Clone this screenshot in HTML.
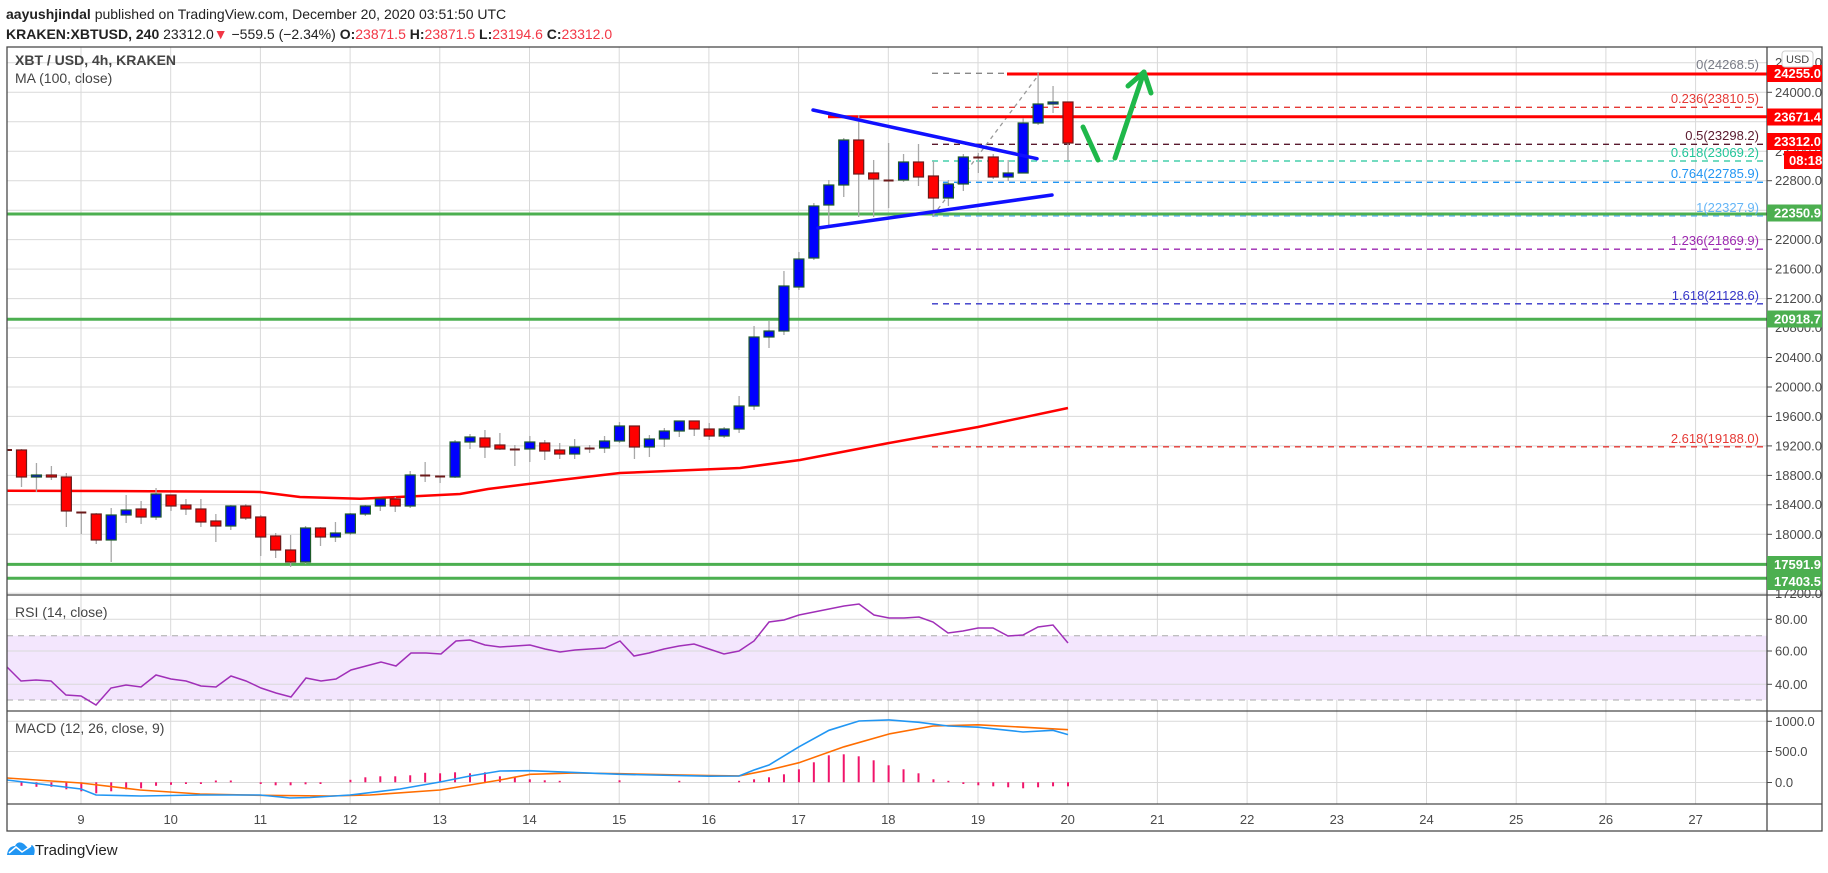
<!DOCTYPE html>
<html><head><meta charset="utf-8"><style>
html,body{margin:0;padding:0;background:#fff;}
body{width:1828px;height:868px;overflow:hidden;font-family:"Liberation Sans",sans-serif;}
svg text{font-family:"Liberation Sans",sans-serif;}
.u{fill:#0000ff;stroke:#1e5b2a;stroke-width:1.2}
.d{fill:#ff0000;stroke:#6b1a1a;stroke-width:1.2}
.w line{stroke:#a8a8a8;stroke-width:1.3}
.ax{font-size:13px;fill:#4a4a4a}
.tg{font-size:13px;fill:#fff;font-weight:bold}
</style></head><body>
<svg width="1828" height="868" xmlns="http://www.w3.org/2000/svg">
<text x="6" y="19" font-size="14" fill="#222"><tspan font-weight="bold">aayushjindal</tspan> published on TradingView.com, December 20, 2020 03:51:50 UTC</text>
<text x="6" y="39" font-size="14" fill="#222"><tspan font-weight="bold">KRAKEN:XBTUSD, 240</tspan> 23312.0<tspan fill="#f23645">▼</tspan> −559.5 (−2.34%) <tspan font-weight="bold">O:</tspan><tspan fill="#f23645">23871.5</tspan> <tspan font-weight="bold">H:</tspan><tspan fill="#f23645">23871.5</tspan> <tspan font-weight="bold">L:</tspan><tspan fill="#f23645">23194.6</tspan> <tspan font-weight="bold">C:</tspan><tspan fill="#f23645">23312.0</tspan></text>

<!-- grid -->
<g stroke="#d9d9d9" stroke-width="1">
<line x1="81" y1="47" x2="81" y2="804"/><line x1="170.7" y1="47" x2="170.7" y2="804"/><line x1="260.4" y1="47" x2="260.4" y2="804"/><line x1="350.1" y1="47" x2="350.1" y2="804"/><line x1="439.8" y1="47" x2="439.8" y2="804"/><line x1="529.5" y1="47" x2="529.5" y2="804"/><line x1="619.2" y1="47" x2="619.2" y2="804"/><line x1="708.9" y1="47" x2="708.9" y2="804"/><line x1="798.6" y1="47" x2="798.6" y2="804"/><line x1="888.3" y1="47" x2="888.3" y2="804"/><line x1="978" y1="47" x2="978" y2="804"/><line x1="1067.7" y1="47" x2="1067.7" y2="804"/><line x1="1157.4" y1="47" x2="1157.4" y2="804"/><line x1="1247.1" y1="47" x2="1247.1" y2="804"/><line x1="1336.8" y1="47" x2="1336.8" y2="804"/><line x1="1426.5" y1="47" x2="1426.5" y2="804"/><line x1="1516.2" y1="47" x2="1516.2" y2="804"/><line x1="1605.9" y1="47" x2="1605.9" y2="804"/><line x1="1695.6" y1="47" x2="1695.6" y2="804"/>
<line x1="7" y1="62.8" x2="1767" y2="62.8"/><line x1="7" y1="92.3" x2="1767" y2="92.3"/><line x1="7" y1="121.8" x2="1767" y2="121.8"/><line x1="7" y1="151.2" x2="1767" y2="151.2"/><line x1="7" y1="180.7" x2="1767" y2="180.7"/><line x1="7" y1="210.2" x2="1767" y2="210.2"/><line x1="7" y1="239.6" x2="1767" y2="239.6"/><line x1="7" y1="269.1" x2="1767" y2="269.1"/><line x1="7" y1="298.6" x2="1767" y2="298.6"/><line x1="7" y1="328" x2="1767" y2="328"/><line x1="7" y1="357.5" x2="1767" y2="357.5"/><line x1="7" y1="387" x2="1767" y2="387"/><line x1="7" y1="416.4" x2="1767" y2="416.4"/><line x1="7" y1="445.9" x2="1767" y2="445.9"/><line x1="7" y1="475.4" x2="1767" y2="475.4"/><line x1="7" y1="504.8" x2="1767" y2="504.8"/><line x1="7" y1="534.3" x2="1767" y2="534.3"/><line x1="7" y1="563.8" x2="1767" y2="563.8"/><line x1="7" y1="593.2" x2="1767" y2="593.2"/>
</g>
<!-- RSI band -->
<rect x="7" y="635.7" width="1760" height="64.3" fill="#f3e6fd"/>
<g stroke="#d9d9d9"><line x1="7" y1="619.3" x2="1767" y2="619.3"/><line x1="7" y1="651" x2="1767" y2="651"/><line x1="7" y1="684.3" x2="1767" y2="684.3"/>
<line x1="7" y1="721.3" x2="1767" y2="721.3"/><line x1="7" y1="751.5" x2="1767" y2="751.5"/><line x1="7" y1="782.5" x2="1767" y2="782.5"/></g>
<g stroke="#aaa" stroke-dasharray="6 5"><line x1="7" y1="635.7" x2="1767" y2="635.7"/><line x1="7" y1="700" x2="1767" y2="700"/></g>

<!-- horizontal S/R -->
<g stroke="#4caf50" stroke-width="3"><line x1="7" y1="214" x2="1767" y2="214"/><line x1="7" y1="319.3" x2="1767" y2="319.3"/><line x1="7" y1="564.4" x2="1767" y2="564.4"/><line x1="7" y1="578.3" x2="1767" y2="578.3"/></g>

<!-- fib -->
<g stroke-width="1.3" stroke-dasharray="6 5">
<line x1="932" y1="73.3" x2="1767" y2="73.3" stroke="#888"/>
<line x1="932" y1="107.3" x2="1767" y2="107.3" stroke="#e53935"/>
<line x1="932" y1="144.3" x2="1767" y2="144.3" stroke="#5a1a2e"/>
<line x1="932" y1="161" x2="1767" y2="161" stroke="#22c59a"/>
<line x1="932" y1="182.3" x2="1767" y2="182.3" stroke="#2196f3"/>
<line x1="932" y1="216" x2="1767" y2="216" stroke="#64b5f6"/>
<line x1="932" y1="249.2" x2="1767" y2="249.2" stroke="#9c27b0"/>
<line x1="932" y1="303.8" x2="1767" y2="303.8" stroke="#3535c8"/>
<line x1="932" y1="446.8" x2="1767" y2="446.8" stroke="#e53935"/>
<line x1="933" y1="215.7" x2="1040" y2="73" stroke="#999" stroke-dasharray="4 4"/>
</g>
<g font-size="13" text-anchor="end">
<text x="1759" y="69" fill="#787b86">0(24268.5)</text>
<text x="1759" y="103" fill="#e53935">0.236(23810.5)</text>
<text x="1759" y="140" fill="#5a1a2e">0.5(23298.2)</text>
<text x="1759" y="157" fill="#22c59a">0.618(23069.2)</text>
<text x="1759" y="178" fill="#2196f3">0.764(22785.9)</text>
<text x="1759" y="212" fill="#64b5f6">1(22327.9)</text>
<text x="1759" y="245" fill="#9c27b0">1.236(21869.9)</text>
<text x="1759" y="300" fill="#3535c8">1.618(21128.6)</text>
<text x="1759" y="443" fill="#e53935">2.618(19188.0)</text>
</g>
<g stroke="#ff0000" stroke-width="3"><line x1="1007" y1="74" x2="1767" y2="74"/><line x1="828" y1="116.7" x2="1767" y2="116.7"/></g>

<!-- MA -->
<polyline fill="none" stroke="#ff0000" stroke-width="2.5" points="7,490.7 100,491 240,491.7 260,492 300,497 360,498.7 420,496 460,494 488,489 560,480 620,473 680,470.5 740,468 800,460 889,443 978,427 1068,408"/>

<!-- candles wicks -->
<g class="w">
<line x1="21.5" y1="449" x2="21.5" y2="487"/><line x1="36.45" y1="463" x2="36.45" y2="492"/><line x1="51.4" y1="466" x2="51.4" y2="480"/><line x1="66.35" y1="473" x2="66.35" y2="527"/><line x1="81.3" y1="512" x2="81.3" y2="534"/><line x1="96.25" y1="513" x2="96.25" y2="544"/><line x1="111.2" y1="508" x2="111.2" y2="562"/><line x1="126.15" y1="495" x2="126.15" y2="523"/><line x1="141.1" y1="501" x2="141.1" y2="524"/><line x1="156.05" y1="488" x2="156.05" y2="520"/><line x1="171" y1="495" x2="171" y2="511"/><line x1="185.95" y1="499" x2="185.95" y2="515"/><line x1="200.9" y1="499" x2="200.9" y2="527"/><line x1="215.85" y1="514" x2="215.85" y2="542"/><line x1="230.8" y1="505" x2="230.8" y2="530"/><line x1="245.75" y1="504" x2="245.75" y2="520"/><line x1="260.7" y1="515" x2="260.7" y2="556"/><line x1="275.65" y1="533" x2="275.65" y2="558"/><line x1="290.6" y1="535" x2="290.6" y2="567"/><line x1="305.55" y1="526" x2="305.55" y2="564"/><line x1="320.5" y1="527" x2="320.5" y2="546"/><line x1="335.45" y1="522" x2="335.45" y2="542"/><line x1="350.4" y1="513" x2="350.4" y2="535"/><line x1="365.35" y1="505" x2="365.35" y2="516"/><line x1="380.3" y1="499" x2="380.3" y2="511"/><line x1="395.25" y1="497" x2="395.25" y2="512"/><line x1="410.2" y1="471" x2="410.2" y2="508"/><line x1="425.15" y1="462" x2="425.15" y2="482"/><line x1="440.1" y1="476" x2="440.1" y2="483"/><line x1="455.05" y1="440" x2="455.05" y2="478"/><line x1="470" y1="434" x2="470" y2="449"/><line x1="484.95" y1="430" x2="484.95" y2="458"/><line x1="499.9" y1="433" x2="499.9" y2="450"/><line x1="514.85" y1="445" x2="514.85" y2="466"/><line x1="529.8" y1="436" x2="529.8" y2="462"/><line x1="544.75" y1="440" x2="544.75" y2="460"/><line x1="559.7" y1="443" x2="559.7" y2="459"/><line x1="574.65" y1="439" x2="574.65" y2="459"/><line x1="589.6" y1="445" x2="589.6" y2="453"/><line x1="604.55" y1="436" x2="604.55" y2="453"/><line x1="619.5" y1="422" x2="619.5" y2="443"/><line x1="634.45" y1="426" x2="634.45" y2="459"/><line x1="649.4" y1="435" x2="649.4" y2="457"/><line x1="664.35" y1="428" x2="664.35" y2="447"/><line x1="679.3" y1="421" x2="679.3" y2="437"/><line x1="694.25" y1="421" x2="694.25" y2="436"/><line x1="709.2" y1="423" x2="709.2" y2="440"/><line x1="724.15" y1="427" x2="724.15" y2="438"/><line x1="739.1" y1="396" x2="739.1" y2="433"/><line x1="754.05" y1="326" x2="754.05" y2="410"/><line x1="769" y1="321" x2="769" y2="348"/><line x1="783.95" y1="271" x2="783.95" y2="335"/><line x1="798.9" y1="252" x2="798.9" y2="290"/><line x1="813.85" y1="203" x2="813.85" y2="260"/><line x1="828.8" y1="180" x2="828.8" y2="226"/><line x1="843.75" y1="138" x2="843.75" y2="197"/><line x1="858.7" y1="115" x2="858.7" y2="217"/><line x1="873.65" y1="160" x2="873.65" y2="217"/><line x1="888.6" y1="143" x2="888.6" y2="208"/><line x1="903.55" y1="154" x2="903.55" y2="182"/><line x1="918.5" y1="144" x2="918.5" y2="186"/><line x1="933.45" y1="161" x2="933.45" y2="217"/><line x1="948.4" y1="180" x2="948.4" y2="206"/><line x1="963.35" y1="154" x2="963.35" y2="191"/><line x1="978.3" y1="153" x2="978.3" y2="173"/><line x1="993.25" y1="154" x2="993.25" y2="179"/><line x1="1008.2" y1="160" x2="1008.2" y2="181"/><line x1="1023.15" y1="118" x2="1023.15" y2="173"/><line x1="1038.1" y1="72" x2="1038.1" y2="125"/><line x1="1053.05" y1="86" x2="1053.05" y2="113"/><line x1="1068" y1="102" x2="1068" y2="160"/>
</g>
<!-- bodies -->
<g>
<rect x="7" y="449" width="5" height="2" fill="#6b1a1a"/>
<rect class="d" x="16.5" y="450" width="10" height="27"/><rect class="u" x="31.45" y="475" width="10" height="2"/><rect class="d" x="46.4" y="475" width="10" height="2"/><rect class="d" x="61.35" y="477" width="10" height="34"/><rect x="76.3" y="511.5" width="10" height="2" fill="#6b1a1a"/><rect class="d" x="91.25" y="514" width="10" height="26"/><rect class="u" x="106.2" y="515" width="10" height="25"/><rect class="u" x="121.15" y="510" width="10" height="5"/><rect class="d" x="136.1" y="509" width="10" height="8"/><rect class="u" x="151.05" y="494" width="10" height="23"/><rect class="d" x="166" y="495" width="10" height="11"/><rect class="d" x="180.95" y="505" width="10" height="4"/><rect class="d" x="195.9" y="509" width="10" height="13"/><rect class="d" x="210.85" y="521" width="10" height="5"/><rect class="u" x="225.8" y="506" width="10" height="20"/><rect class="d" x="240.75" y="506" width="10" height="12"/><rect class="d" x="255.7" y="517" width="10" height="20"/><rect class="d" x="270.65" y="536" width="10" height="14"/><rect class="d" x="285.6" y="550" width="10" height="12"/><rect class="u" x="300.55" y="528" width="10" height="34"/><rect class="d" x="315.5" y="528" width="10" height="9"/><rect class="u" x="330.45" y="533" width="10" height="4"/><rect class="u" x="345.4" y="514" width="10" height="19"/><rect class="u" x="360.35" y="506" width="10" height="8"/><rect class="u" x="375.3" y="499" width="10" height="7"/><rect class="d" x="390.25" y="499" width="10" height="7"/><rect class="u" x="405.2" y="475" width="10" height="31"/><rect x="420.15" y="474.5" width="10" height="2" fill="#6b1a1a"/><rect x="435.1" y="475.5" width="10" height="2" fill="#6b1a1a"/><rect class="u" x="450.05" y="442" width="10" height="35"/><rect class="u" x="465" y="437" width="10" height="5"/><rect class="d" x="479.95" y="438" width="10" height="9"/><rect class="d" x="494.9" y="445" width="10" height="4"/><rect x="509.85" y="448.5" width="10" height="2" fill="#6b1a1a"/><rect class="u" x="524.8" y="442" width="10" height="7"/><rect class="d" x="539.75" y="443" width="10" height="8"/><rect class="d" x="554.7" y="450" width="10" height="4"/><rect class="u" x="569.65" y="447" width="10" height="7"/><rect x="584.6" y="447.5" width="10" height="2" fill="#6b1a1a"/><rect class="u" x="599.55" y="441" width="10" height="7"/><rect class="u" x="614.5" y="426" width="10" height="15"/><rect class="d" x="629.45" y="426" width="10" height="21"/><rect class="u" x="644.4" y="439" width="10" height="8"/><rect class="u" x="659.35" y="431" width="10" height="8"/><rect class="u" x="674.3" y="421" width="10" height="10"/><rect class="d" x="689.25" y="421" width="10" height="8"/><rect class="d" x="704.2" y="429" width="10" height="7"/><rect class="u" x="719.15" y="429" width="10" height="7"/><rect class="u" x="734.1" y="406" width="10" height="23"/><rect class="u" x="749.05" y="337" width="10" height="69"/><rect class="u" x="764" y="331" width="10" height="6"/><rect class="u" x="778.95" y="286" width="10" height="45"/><rect class="u" x="793.9" y="259" width="10" height="28"/><rect class="u" x="808.85" y="206" width="10" height="52"/><rect class="u" x="823.8" y="185" width="10" height="20"/><rect class="u" x="838.75" y="140" width="10" height="45"/><rect class="d" x="853.7" y="140" width="10" height="34"/><rect class="d" x="868.65" y="173" width="10" height="6"/><rect x="883.6" y="179.5" width="10" height="2" fill="#6b1a1a"/><rect class="u" x="898.55" y="162" width="10" height="18"/><rect class="d" x="913.5" y="162" width="10" height="15"/><rect class="d" x="928.45" y="176" width="10" height="22"/><rect class="u" x="943.4" y="184" width="10" height="14"/><rect class="u" x="958.35" y="157" width="10" height="27"/><rect x="973.3" y="156.5" width="10" height="2" fill="#6b1a1a"/><rect class="d" x="988.25" y="157" width="10" height="20"/><rect class="u" x="1003.2" y="173" width="10" height="4"/><rect class="u" x="1018.15" y="123" width="10" height="50"/><rect class="u" x="1033.1" y="104" width="10" height="19"/><rect class="u" x="1048.05" y="102" width="10" height="2"/><rect class="d" x="1063" y="102" width="10" height="41"/>
</g>

<!-- trendlines -->
<g stroke="#1010ff" stroke-width="3.5" stroke-linecap="round"><line x1="813" y1="110" x2="1037" y2="158.7"/><line x1="818" y1="228" x2="1052" y2="195"/></g>
<!-- arrows -->
<g stroke="#1fb84a" stroke-width="5" fill="none" stroke-linecap="round" stroke-linejoin="round">
<line x1="1083" y1="127" x2="1098" y2="160"/>
<line x1="1115" y1="158" x2="1144" y2="72"/>
<polyline points="1128,86 1144,72 1151,93"/>
</g>

<!-- RSI -->
<polyline fill="none" stroke="#a02fb8" stroke-width="1.5" points="7,667 21,681 36,680 51,681 66,695 81,696 96,705 111,688 126,685 141,687 156,675 171,679 186,681 201,686 216,687 231,676 246,681 261,688 276,693 291,697 306,678 321,681 336,679 351,670 366,666 381,662 396,666 411,653 426,653 441,654 456,641 470,640 485,645 500,647 515,646 530,645 545,649 560,652 575,650 590,649 605,648 620,641 634,656 649,653 664,649 679,646 694,644 709,649 724,654 739,651 754,641 769,622 784,620 799,615 814,612 829,609 844,606 859,604 874,615 889,618 904,618 919,617 933,622 948,633 963,631 978,628 993,628 1008,636 1023,635 1038,627 1053,625 1068,643"/>

<!-- MACD hist -->
<g stroke="#f0146a" stroke-width="2">
<line x1="21.5" y1="782.3" x2="21.5" y2="785.8"/><line x1="36.45" y1="782.3" x2="36.45" y2="786.8"/><line x1="51.4" y1="782.3" x2="51.4" y2="786.8"/><line x1="66.35" y1="782.3" x2="66.35" y2="789.3"/><line x1="81.3" y1="782.3" x2="81.3" y2="791.3"/><line x1="96.25" y1="782.3" x2="96.25" y2="793.3"/><line x1="111.2" y1="782.3" x2="111.2" y2="791.3"/><line x1="126.15" y1="782.3" x2="126.15" y2="789.3"/><line x1="141.1" y1="782.3" x2="141.1" y2="788.3"/><line x1="156.05" y1="782.3" x2="156.05" y2="785.8"/><line x1="171" y1="782.3" x2="171" y2="784.8"/><line x1="185.95" y1="782.3" x2="185.95" y2="784"/><line x1="200.9" y1="782.3" x2="200.9" y2="784"/><line x1="215.85" y1="782.3" x2="215.85" y2="780.5"/><line x1="230.8" y1="782.3" x2="230.8" y2="780.5"/><line x1="260.7" y1="782.3" x2="260.7" y2="784"/><line x1="275.65" y1="782.3" x2="275.65" y2="785.3"/><line x1="290.6" y1="782.3" x2="290.6" y2="785.3"/><line x1="305.55" y1="782.3" x2="305.55" y2="784.3"/><line x1="320.5" y1="782.3" x2="320.5" y2="784"/><line x1="350.4" y1="782.3" x2="350.4" y2="779.8"/><line x1="365.35" y1="782.3" x2="365.35" y2="777.3"/><line x1="380.3" y1="782.3" x2="380.3" y2="776.3"/><line x1="395.25" y1="782.3" x2="395.25" y2="776.3"/><line x1="410.2" y1="782.3" x2="410.2" y2="775.3"/><line x1="425.15" y1="782.3" x2="425.15" y2="772.8"/><line x1="440.1" y1="782.3" x2="440.1" y2="773.3"/><line x1="455.05" y1="782.3" x2="455.05" y2="772.3"/><line x1="470" y1="782.3" x2="470" y2="773.3"/><line x1="484.95" y1="782.3" x2="484.95" y2="772.3"/><line x1="499.9" y1="782.3" x2="499.9" y2="776.3"/><line x1="514.85" y1="782.3" x2="514.85" y2="777.3"/><line x1="529.8" y1="782.3" x2="529.8" y2="779.3"/><line x1="544.75" y1="782.3" x2="544.75" y2="780.3"/><line x1="559.7" y1="782.3" x2="559.7" y2="780.8"/><line x1="619.5" y1="782.3" x2="619.5" y2="780.3"/><line x1="679.3" y1="782.3" x2="679.3" y2="780.8"/><line x1="739.1" y1="782.3" x2="739.1" y2="780.8"/><line x1="754.05" y1="782.3" x2="754.05" y2="779.3"/><line x1="769" y1="782.3" x2="769" y2="777.3"/><line x1="783.95" y1="782.3" x2="783.95" y2="774.3"/><line x1="798.9" y1="782.3" x2="798.9" y2="769.3"/><line x1="813.85" y1="782.3" x2="813.85" y2="762.3"/><line x1="828.8" y1="782.3" x2="828.8" y2="755.3"/><line x1="843.75" y1="782.3" x2="843.75" y2="754.3"/><line x1="858.7" y1="782.3" x2="858.7" y2="756.3"/><line x1="873.65" y1="782.3" x2="873.65" y2="760.3"/><line x1="888.6" y1="782.3" x2="888.6" y2="765.3"/><line x1="903.55" y1="782.3" x2="903.55" y2="769.3"/><line x1="918.5" y1="782.3" x2="918.5" y2="773.3"/><line x1="933.45" y1="782.3" x2="933.45" y2="779.3"/><line x1="948.4" y1="782.3" x2="948.4" y2="780.8"/><line x1="963.35" y1="782.3" x2="963.35" y2="784"/><line x1="978.3" y1="782.3" x2="978.3" y2="785.3"/><line x1="993.25" y1="782.3" x2="993.25" y2="786.3"/><line x1="1008.2" y1="782.3" x2="1008.2" y2="787.3"/><line x1="1023.15" y1="782.3" x2="1023.15" y2="788.3"/><line x1="1038.1" y1="782.3" x2="1038.1" y2="787.3"/><line x1="1053.05" y1="782.3" x2="1053.05" y2="786.3"/><line x1="1068" y1="782.3" x2="1068" y2="786.3"/>
</g>
<polyline fill="none" stroke="#ff6d00" stroke-width="1.6" points="7,778 81,783 140,790 200,794 260,795.3 330,796 370,795 440,790 500,780 530,774.3 575,773 620,773.7 709,775.6 739,775.9 769,770 799,762.7 844,746.8 889,734 933,726 978,724.8 1023,727.2 1068,729.7"/>
<polyline fill="none" stroke="#2196f3" stroke-width="1.6" points="7,780 81,789 96,795 141,796 200,795 260,795 290,798 310,797.5 350,795 400,789 440,782 470,776 500,771 530,770.7 620,774.3 709,776.2 739,776 754,770 769,765 799,746.8 829,730.3 859,721 889,719.9 919,722.3 948,726 978,727.2 1023,732 1053,730.3 1068,734.6"/>

<!-- frame -->
<g stroke="#4a4a4a" stroke-width="1.3" fill="none">
<rect x="7" y="47" width="1815" height="784"/>
<line x1="7" y1="595" x2="1822" y2="595"/><line x1="7" y1="711" x2="1822" y2="711"/><line x1="7" y1="804" x2="1822" y2="804"/><line x1="1767" y1="47" x2="1767" y2="831"/>
</g>

<text x="15" y="65" font-size="14" font-weight="bold" fill="#444">XBT / USD, 4h, KRAKEN</text>
<text x="15" y="83" font-size="14" fill="#444">MA (100, close)</text>
<text x="15" y="617" font-size="14" fill="#444">RSI (14, close)</text>
<text x="15" y="733" font-size="14" fill="#444">MACD (12, 26, close, 9)</text>

<!-- price axis -->
<g class="ax">
<g stroke="#4a4a4a"><line x1="1767" y1="92.3" x2="1772" y2="92.3"/><line x1="1767" y1="180.7" x2="1772" y2="180.7"/><line x1="1767" y1="239.6" x2="1772" y2="239.6"/><line x1="1767" y1="269.1" x2="1772" y2="269.1"/><line x1="1767" y1="298.6" x2="1772" y2="298.6"/><line x1="1767" y1="357.5" x2="1772" y2="357.5"/><line x1="1767" y1="387" x2="1772" y2="387"/><line x1="1767" y1="416.4" x2="1772" y2="416.4"/><line x1="1767" y1="445.9" x2="1772" y2="445.9"/><line x1="1767" y1="475.4" x2="1772" y2="475.4"/><line x1="1767" y1="504.8" x2="1772" y2="504.8"/><line x1="1767" y1="534.3" x2="1772" y2="534.3"/><line x1="1767" y1="619.3" x2="1772" y2="619.3"/><line x1="1767" y1="651" x2="1772" y2="651"/><line x1="1767" y1="684.3" x2="1772" y2="684.3"/><line x1="1767" y1="721.3" x2="1772" y2="721.3"/><line x1="1767" y1="751.5" x2="1772" y2="751.5"/><line x1="1767" y1="782.5" x2="1772" y2="782.5"/></g>
<text x="1775" y="67">24400.0</text><text x="1775" y="97">24000.0</text><text x="1775" y="156">23200.0</text><text x="1775" y="185">22800.0</text><text x="1775" y="244">22000.0</text><text x="1775" y="273.5">21600.0</text><text x="1775" y="303">21200.0</text><text x="1775" y="332">20800.0</text><text x="1775" y="362">20400.0</text><text x="1775" y="391.5">20000.0</text><text x="1775" y="421">19600.0</text><text x="1775" y="450.5">19200.0</text><text x="1775" y="480">18800.0</text><text x="1775" y="509">18400.0</text><text x="1775" y="539">18000.0</text><text x="1775" y="598">17200.0</text>
<text x="1775" y="624">80.00</text><text x="1775" y="655.5">60.00</text><text x="1775" y="689">40.00</text>
<text x="1775" y="726">1000.0</text><text x="1775" y="756">500.0</text><text x="1775" y="787">0.0</text>
</g>
<!-- tags -->
<rect x="1767" y="65" width="55" height="17" fill="#ff0000"/><text class="tg" x="1774" y="78">24255.0</text>
<rect x="1767" y="108.5" width="55" height="17" fill="#ff0000"/><text class="tg" x="1774" y="121.5">23671.4</text>
<rect x="1767" y="133" width="55" height="17" fill="#ff0000"/><text class="tg" x="1774" y="146">23312.0</text>
<rect x="1784" y="151" width="38" height="18" fill="#ff0000"/><text class="tg" x="1789" y="165">08:18</text>
<rect x="1767" y="204.5" width="55" height="17" fill="#4caf50"/><text class="tg" x="1774" y="217.5">22350.9</text>
<rect x="1767" y="310.5" width="55" height="17" fill="#4caf50"/><text class="tg" x="1774" y="323.5">20918.7</text>
<rect x="1767" y="556" width="55" height="17" fill="#4caf50"/><text class="tg" x="1774" y="569">17591.9</text>
<rect x="1767" y="573" width="55" height="17" fill="#4caf50"/><text class="tg" x="1774" y="586">17403.5</text>
<rect x="1782" y="51" width="31" height="16" rx="3" fill="#fff" stroke="#ccc"/><text x="1786" y="63" font-size="11" fill="#444">USD</text>

<!-- x axis -->
<g class="ax" text-anchor="middle">
<text x="81" y="824">9</text><text x="170.7" y="824">10</text><text x="260.4" y="824">11</text><text x="350.1" y="824">12</text><text x="439.8" y="824">13</text><text x="529.5" y="824">14</text><text x="619.2" y="824">15</text><text x="708.9" y="824">16</text><text x="798.6" y="824">17</text><text x="888.3" y="824">18</text><text x="978" y="824">19</text><text x="1067.7" y="824">20</text><text x="1157.4" y="824">21</text><text x="1247.1" y="824">22</text><text x="1336.8" y="824">23</text><text x="1426.5" y="824">24</text><text x="1516.2" y="824">25</text><text x="1605.9" y="824">26</text><text x="1695.6" y="824">27</text>
</g>
<!-- logo -->
<path d="M7,855 Q8,846 15,846 Q18,840 24,844 L28,848 L32,845 Q36,848 34,855 Z" fill="#2196f3"/>
<polyline points="9,853 16,847 22,852 31,846" fill="none" stroke="#fff" stroke-width="1.5"/>
<text x="35" y="855" font-size="15" fill="#222">TradingView</text>
</svg>
</body></html>
